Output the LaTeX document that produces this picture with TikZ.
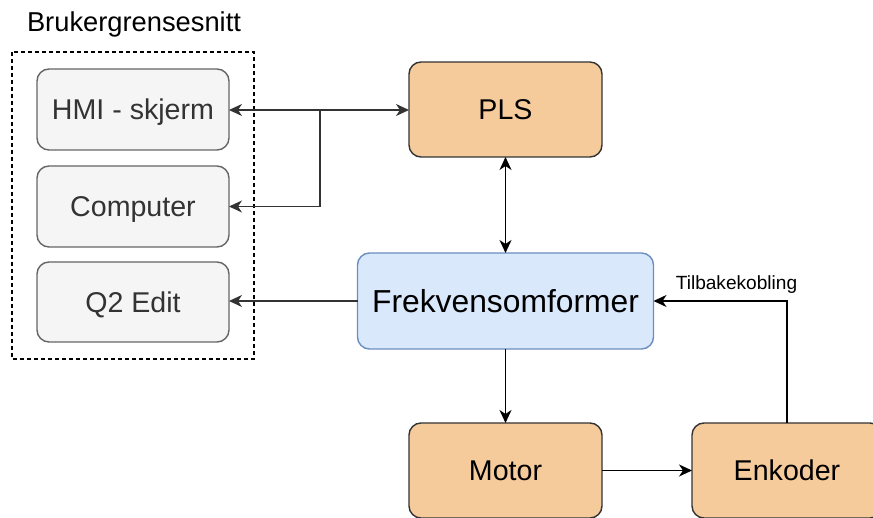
\documentclass[tikz,border=0pt]{standalone}
\usepackage{fontspec}
\setmainfont{Liberation Sans}
\usetikzlibrary{arrows.meta}
\definecolor{grayfill}{HTML}{F5F5F5}
\definecolor{graystroke}{HTML}{666666}
\definecolor{graytext}{HTML}{333333}
\definecolor{orangefill}{HTML}{F6CB9C}
\definecolor{darkstroke}{HTML}{333333}
\definecolor{bluefill}{HTML}{DAE8FC}
\definecolor{bluestroke}{HTML}{6C8EBF}
\tikzset{
  box/.style={draw, rounded corners=12pt, line width=1.4pt, inner sep=0pt, outer sep=0pt, text height=20.5pt, text depth=0pt, font=\fontsize{28.6}{32}\selectfont},
  graybox/.style={box, fill=grayfill, draw=graystroke, text=graytext, minimum width=192pt, minimum height=81pt},
  orangebox/.style={box, fill=orangefill, draw=darkstroke, text=black, minimum width=193pt, minimum height=95pt},
  bluebox/.style={box, fill=bluefill, draw=bluestroke, text=black, minimum width=296pt, minimum height=96pt, text height=22.8pt, font=\fontsize{31.8}{35}\selectfont},
  conn/.style={line width=1.7pt, -{Stealth[length=13pt,width=12pt,inset=4pt]}},
  bconn/.style={line width=1.7pt, {Stealth[length=13pt,width=12pt,inset=4pt]}-{Stealth[length=13pt,width=12pt,inset=4pt]}},
}
\begin{document}
\begin{tikzpicture}[x=1pt,y=-1pt]
\useasboundingbox (0,0) rectangle (873,518);
\clip (0,0) rectangle (873,518);
% group frame
\draw[dashed, dash pattern=on 4pt off 3pt, line width=1.1pt] (12,52) rectangle (254,359);
\node[font=\fontsize{27.3}{30}\selectfont, text height=19.5pt, text depth=0pt, inner sep=0pt] (title) at (134,21.5) {Brukergrensesnitt};
% nodes
\node[graybox] (hmi) at (133,109.5) {HMI - skjerm};
\node[graybox] (comp) at (133,206.5) {Computer};
\node[graybox, minimum height=80pt] (q2) at (133,302) {Q2 Edit};
\node[orangebox] (pls) at (505.5,109.5) {PLS};
\node[bluebox] (frek) at (505.5,301) {Frekvensomformer};
\node[orangebox] (motor) at (505.5,470.5) {Motor};
\node[orangebox, minimum width=190pt] (enk) at (787,470.5) {Enkoder};
% connectors
\coordinate (jn) at (320,110);
\draw[bconn, draw=graytext] (hmi.east |- jn) -- (pls.west |- jn);
\draw[conn, draw=graytext] (jn) |- (comp.east);
\draw[conn, draw=graytext] (frek.west) -- (q2.east |- frek.west);
\draw[bconn] (pls.south) -- (frek.north);
\draw[conn] (frek.south) -- (motor.north);
\draw[conn] (motor.east) -- (enk.west);
\draw[conn] (enk.north) |- (frek.east);
\node[font=\fontsize{19.1}{22}\selectfont, text height=13.7pt, text depth=0pt, inner sep=0pt] (fb) at (736.5,283) {Tilbakekobling};
\end{tikzpicture}
\end{document}
